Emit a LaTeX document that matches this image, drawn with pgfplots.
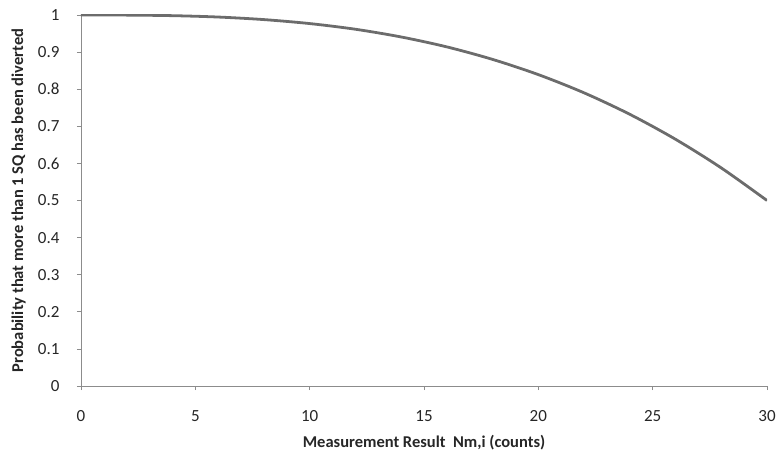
\documentclass[border=0pt]{standalone}
\usepackage{pgfplots}
\pgfplotsset{compat=1.18}
\usepackage{fontspec}
\setmainfont{Carlito}
\definecolor{curve}{RGB}{108,108,108}
\definecolor{axgray}{RGB}{140,140,140}
\begin{document}
\begin{tikzpicture}
\useasboundingbox (-81bp,-67bp) rectangle (697bp,386bp);
\begin{axis}[
  at={(0,0)}, anchor=origin,
  scale only axis, width=686bp, height=371bp,
  xmin=0, xmax=30, ymin=0, ymax=1,
  axis x line*=bottom, axis y line*=left,
  axis line style={axgray, line width=0.9pt, -},
  tick align=outside, major tick length=4bp,
  tick style={axgray, line width=0.8pt},
  xtick={0,5,...,30}, ytick={0,0.1,...,1},
  yticklabels={0,0.1,0.2,0.3,0.4,0.5,0.6,0.7,0.8,0.9,1},
  /pgf/number format/assume math mode=true,
  ticklabel style={font=\fontsize{17bp}{19bp}\selectfont, text=black!85},
  xticklabel style={yshift=-17bp},
  yticklabel style={xshift=-14bp},
  xlabel={\textbf{Measurement Result\ \ Nm,i (counts)}},
  ylabel={\textbf{Probability that more than 1 SQ has been diverted}},
  label style={font=\fontsize{16.5bp}{18bp}\selectfont, text=black!85},
  xlabel style={at={(axis description cs:0.5,-0.153)}, anchor=center},
  ylabel style={at={(axis description cs:-0.091,0.5)}, anchor=center},
]
\addplot[curve, line width=2.8pt, smooth] coordinates {
(0,1.0000) (2,0.9997) (4,0.9982) (6,0.9945) (8,0.9876) (10,0.9769)
(12,0.9616) (14,0.9408) (16,0.9140) (18,0.8803) (20,0.8393)
(22,0.7902) (24,0.7323) (26,0.6650) (28,0.5878) (30,0.5000)
};
\end{axis}
\end{tikzpicture}
\end{document}
